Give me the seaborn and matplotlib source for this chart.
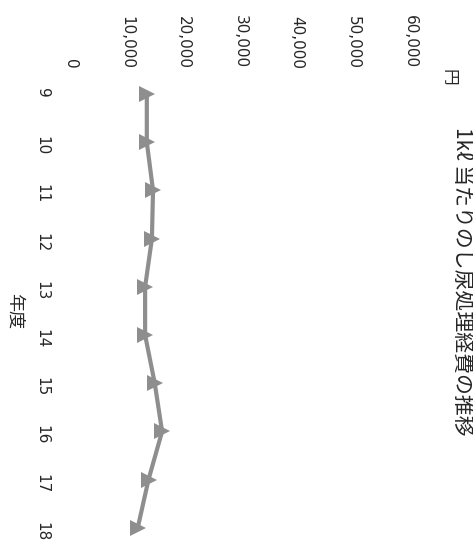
import matplotlib
matplotlib.use("Agg")
import matplotlib.pyplot as plt
import seaborn as sns
import pandas as pd

# data (fiscal year -> cost per kl, yen)
years = [9, 10, 11, 12, 13, 14, 15, 16, 17, 18]
cost = [13500, 13500, 14600, 14400, 13200, 13200, 14900, 16200, 13800, 11900]
value_ticks = [0, 10000, 20000, 30000, 40000, 50000, 60000]
title = "1kℓ 当たりのし尿処理経費の推移"
unit_label = "円"
year_label = "年度"

sns.set_theme(style="white")
plt.rcParams["font.family"] = ["DejaVu Sans", "Noto Sans CJK JP"]
jp = ["Noto Sans CJK JP", "DejaVu Sans"]

W, H = 473, 543
fig = plt.figure(figsize=(W / 100, H / 100), dpi=100)
# the whole chart is drawn turned a quarter turn clockwise
ax = fig.add_axes([70.4 / W, 0, (410 - 70.4) / W, (543 - 70) / H])

df = pd.DataFrame({"year": years, "cost": cost})
sns.lineplot(data=df, x="cost", y="year", orient="y", ax=ax, color="#8e8e8e",
             linewidth=3, marker=">", markersize=11, markeredgewidth=0)

ax.set_xlim(0, 60000)
ax.set_ylim(18.315, 8.5)
ax.xaxis.tick_top()
ax.set_xticks(value_ticks)
ax.set_xticklabels([f"{v:,}" for v in value_ticks], rotation=-90, fontsize=11)
ax.set_yticks(years)
ax.set_yticklabels([str(y) for y in years], rotation=-90, fontsize=11)
ax.tick_params(axis="x", length=0, pad=1)
ax.tick_params(axis="y", length=0, pad=15)
ax.set_xlabel("")
ax.set_ylabel("")
for s in ax.spines.values():
    s.set_visible(False)
ax.grid(False)

fig.text(462 / W, 1 - 281 / H, title, rotation=-90, ha="center", va="center",
         fontsize=15, family=jp)
fig.text(448 / W, 1 - 77 / H, unit_label, rotation=-90, ha="center", va="center",
         fontsize=12, family=jp)
fig.text(14 / W, 1 - 311 / H, year_label, rotation=-90, ha="center", va="center",
         fontsize=13, family=jp)

fig.savefig("out.png", dpi=100)
